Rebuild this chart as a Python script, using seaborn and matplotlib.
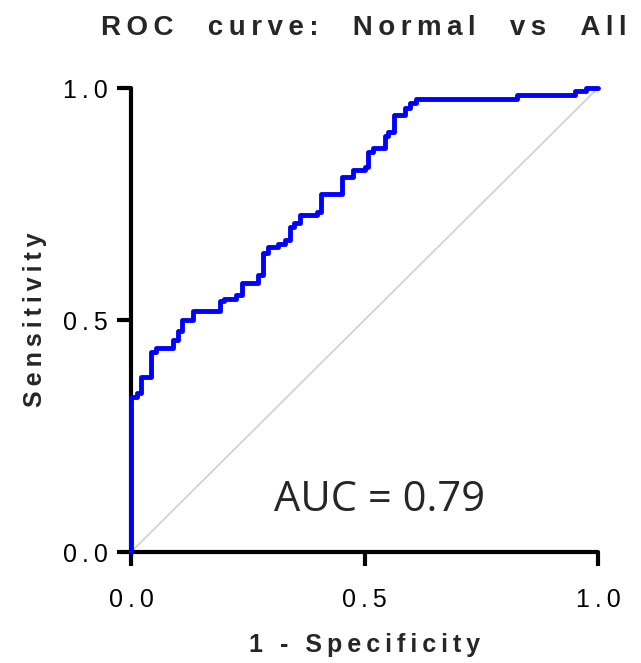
import matplotlib
matplotlib.use("Agg")
import matplotlib.pyplot as plt
import numpy as np
import pandas as pd
import seaborn as sns

# ROC curve corner points (1 - specificity, sensitivity)
fpr = [0.000, 0.000, 0.012, 0.021, 0.043, 0.054, 0.089, 0.100, 0.110, 0.133,
       0.190, 0.200, 0.225, 0.237, 0.272, 0.283, 0.293, 0.315, 0.330, 0.340,
       0.350, 0.362, 0.398, 0.406, 0.451, 0.475, 0.501, 0.508, 0.519, 0.544,
       0.551, 0.563, 0.587, 0.597, 0.610, 0.827, 0.951, 0.974, 1.000]
tpr = [0.000, 0.335, 0.343, 0.377, 0.430, 0.440, 0.457, 0.476, 0.500, 0.520,
       0.540, 0.546, 0.554, 0.580, 0.597, 0.645, 0.657, 0.664, 0.672, 0.700,
       0.710, 0.726, 0.733, 0.771, 0.809, 0.823, 0.830, 0.863, 0.870, 0.897,
       0.906, 0.942, 0.956, 0.968, 0.976, 0.985, 0.994, 1.000, 1.000]
ref_x = [0.0, 1.0]
ref_y = [0.0, 1.0]

tick_values = [0.0, 0.5, 1.0]
tick_labels = ["0.0", "0.5", "1.0"]
title_text = "ROC curve: Normal vs All"
xlabel_text = "1 - Specificity"
ylabel_text = "Sensitivity"
auc_text = "AUC = 0.79"

THIN = "\u2009"


def spaced(s, word_gap):
    """Letter-spaced version of a string (thin spaces between letters)."""
    words = s.split(" ")
    return (THIN + word_gap + THIN).join(THIN.join(w) for w in words)


sns.set_style("ticks")
plt.rcParams["font.family"] = ["Liberation Sans", "DejaVu Sans"]

W, H = 641, 663
fig = plt.figure(figsize=(W / 100, H / 100), dpi=100)
ax = fig.add_axes([131 / W, 111 / H, 467 / W, 464 / H])

sns.lineplot(data=pd.DataFrame({"x": ref_x, "y": ref_y}), x="x", y="y",
             color="#d0d0d0", lw=1.2, ax=ax, zorder=1)
sns.lineplot(data=pd.DataFrame({"fpr": fpr, "tpr": tpr}), x="fpr", y="tpr",
             estimator=None, sort=False, drawstyle="steps-post",
             color="#0000ff", lw=3.5, ax=ax, zorder=4, clip_on=False)

ax.set_xlim(0, 1)
ax.set_ylim(0, 1)
ax.set_xticks(tick_values)
ax.set_xticklabels([spaced(t, " ") for t in tick_labels])
ax.set_yticks(tick_values)
ax.set_yticklabels([spaced(t, " ") for t in tick_labels])
sns.despine(ax=ax)
for s in ("left", "bottom"):
    ax.spines[s].set_linewidth(3.0)
    ax.spines[s].set_color("black")
    ax.spines[s].set_capstyle("round")
ax.tick_params(axis="both", length=10, width=3.0, color="black",
               labelsize=18, labelcolor="black")
ax.tick_params(axis="x", pad=16)
ax.tick_params(axis="y", pad=7)

ax.set_xlabel(spaced(xlabel_text, " "), fontsize=18, fontweight="bold",
              va="center")
ax.xaxis.set_label_coords(0.5, (552 - 645) / 464)
ax.set_ylabel(spaced(ylabel_text, " "), fontsize=18, fontweight="bold",
              va="center")
ax.yaxis.set_label_coords((35 - 131) / 467, 0.5)

ax.text((380 - 131) / 467, (552 - 500) / 464, auc_text, fontsize=30,
        family="Open Sans", ha="center", va="center", transform=ax.transAxes)

fig.text(364 / W, 1 - 28 / H, spaced(title_text, "   "), fontsize=20,
         fontweight="bold", ha="center", va="center")

fig.savefig("out.png", dpi=100)
